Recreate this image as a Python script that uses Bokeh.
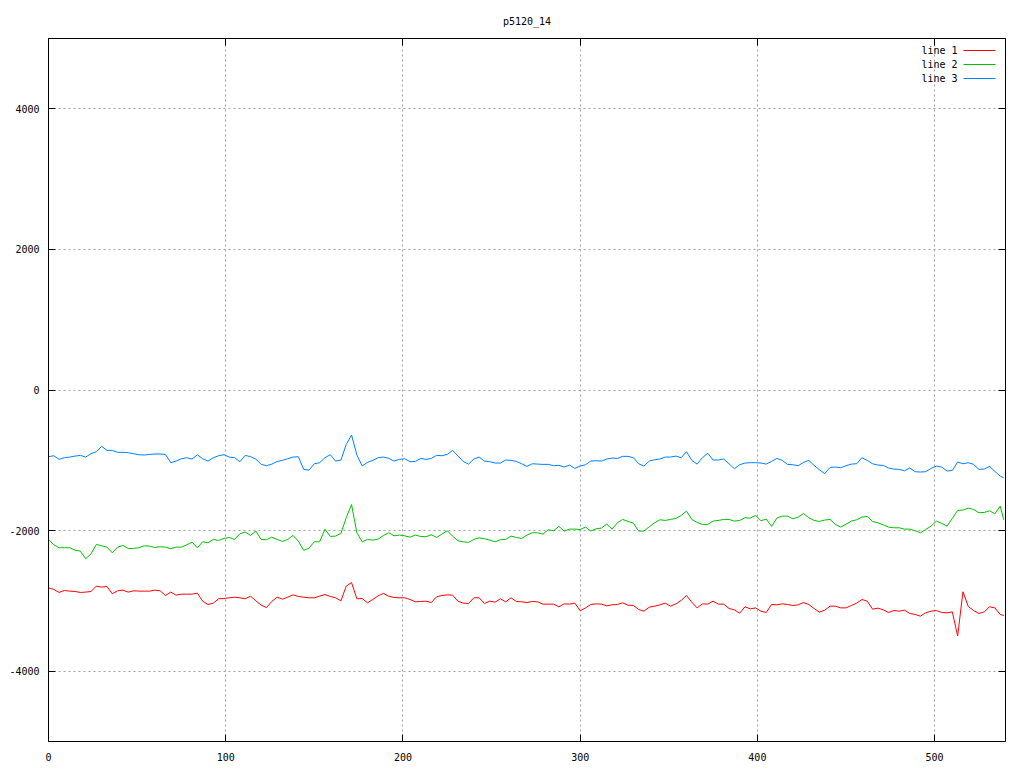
from bokeh.plotting import figure
from bokeh.models import Range1d, LinearAxis, FixedTicker, Label, Arrow, Title
from bokeh.embed import file_html
from bokeh.resources import INLINE

title_text = "p5120_14"
series_names = ["line 1", "line 2", "line 3"]
series_colors = ["#ff0000", "#00c000", "#0080ff"]
x_ticks = [0, 100, 200, 300, 400, 500]
y_ticks = [-4000, -2000, 0, 2000, 4000]

x_vals = list(range(0, 538, 3)) + [539]

line1 = [-2814, -2837, -2880, -2852, -2861, -2866, -2880, -2875, -2866, -2790,
         -2804, -2795, -2899, -2856, -2847, -2875, -2856, -2861, -2861, -2861,
         -2847, -2856, -2923, -2875, -2918, -2904, -2904, -2904, -2890, -3004,
         -3051, -3032, -2970, -2966, -2956, -2947, -2956, -2970, -2933, -2999,
         -3060, -3095, -3008, -2947, -2975, -2947, -2914, -2937, -2947, -2956,
         -2956, -2933, -2909, -2937, -2956, -2999, -2790, -2740, -2970, -2966,
         -3027, -2980, -2928, -2894, -2933, -2951, -2956, -2956, -2980, -3013,
         -3008, -3004, -3023, -2942, -2923, -2914, -2918, -3004, -3032, -3037,
         -2956, -2956, -3037, -3004, -3018, -2970, -3013, -2956, -3008, -3013,
         -3023, -3008, -3013, -3046, -3046, -3046, -3084, -3042, -3046, -3032,
         -3140, -3100, -3051, -3042, -3046, -3070, -3056, -3051, -3027, -3061,
         -3065, -3122, -3146, -3089, -3075, -3056, -3032, -3075, -3042, -2994,
         -2923, -3018, -3100, -3042, -3046, -3004, -3046, -3046, -3108, -3127,
         -3175, -3084, -3113, -3099, -3146, -3165, -3051, -3056, -3042, -3051,
         -3065, -3056, -3023, -3051, -3108, -3160, -3132, -3075, -3075, -3099,
         -3099, -3065, -3032, -2980, -3004, -3118, -3103, -3127, -3165, -3137,
         -3146, -3132, -3179, -3193, -3217, -3170, -3146, -3137, -3165, -3170,
         -3156, -3500, -2870, -3080, -3137, -3179, -3156, -3084, -3099, -3193,
         -3208]

line2 = [-2126, -2202, -2244, -2244, -2244, -2278, -2292, -2400, -2330, -2197,
         -2216, -2235, -2316, -2235, -2211, -2254, -2254, -2244, -2216, -2221,
         -2240, -2230, -2235, -2258, -2235, -2235, -2202, -2164, -2244, -2159,
         -2173, -2126, -2140, -2112, -2097, -2126, -2045, -2021, -2069, -2007,
         -2126, -2130, -2093, -2126, -2154, -2126, -2069, -2149, -2282, -2249,
         -2159, -2159, -1980, -2083, -2078, -2040, -1817, -1630, -2031, -2159,
         -2126, -2135, -2121, -2069, -2031, -2074, -2064, -2074, -2093, -2064,
         -2083, -2088, -2059, -2097, -2050, -2002, -2078, -2145, -2159, -2168,
         -2126, -2102, -2116, -2135, -2159, -2130, -2126, -2078, -2097, -2112,
         -2064, -2031, -2031, -2050, -1988, -2002, -1940, -2007, -1979, -1979,
         -1984, -1950, -2007, -1974, -1964, -1908, -1979, -1889, -1841, -1870,
         -1893, -2007, -2007, -1945, -1889, -1846, -1855, -1841, -1827, -1784,
         -1723, -1841, -1884, -1912, -1912, -1865, -1855, -1841, -1841, -1865,
         -1855, -1817, -1822, -1784, -1860, -1836, -1940, -1822, -1794, -1794,
         -1832, -1808, -1756, -1817, -1855, -1870, -1850, -1841, -1912, -1950,
         -1910, -1865, -1846, -1808, -1798, -1870, -1889, -1917, -1950, -1960,
         -1960, -1979, -1979, -2002, -2031, -1984, -1936, -1865, -1898, -1936,
         -1827, -1713, -1708, -1680, -1699, -1746, -1742, -1718, -1761, -1651,
         -1846]

line3 = [-949, -935, -987, -963, -954, -940, -930, -954, -906, -878,
         -802, -859, -859, -887, -887, -892, -906, -921, -925, -916,
         -911, -911, -916, -1034, -1011, -978, -963, -982, -921, -978,
         -1011, -963, -935, -921, -954, -963, -1020, -930, -949, -982,
         -1058, -1077, -1054, -1016, -1001, -978, -954, -949, -1130, -1140,
         -1049, -1034, -963, -921, -1011, -996, -775, -640, -925, -1080,
         -1030, -1001, -963, -954, -973, -1011, -987, -978, -1020, -1016,
         -973, -987, -973, -930, -935, -916, -860, -935, -1016, -1054,
         -982, -954, -1011, -1020, -1039, -1039, -996, -1001, -1016, -1049,
         -1087, -1049, -1054, -1058, -1058, -1077, -1072, -1096, -1068, -1115,
         -1082, -1063, -1011, -1006, -1011, -982, -968, -973, -944, -944,
         -963, -1049, -1082, -1011, -992, -982, -954, -954, -940, -963,
         -878, -1001, -1054, -963, -901, -996, -996, -982, -1049, -1120,
         -1063, -1039, -1034, -1034, -1039, -1054, -1016, -973, -1001, -1058,
         -1063, -1077, -1030, -1001, -1072, -1134, -1190, -1101, -1096, -1106,
         -1077, -1054, -1049, -963, -1001, -1049, -1068, -1072, -1110, -1125,
         -1129, -1148, -1110, -1162, -1167, -1162, -1115, -1082, -1096, -1153,
         -1144, -1025, -1049, -1034, -1058, -1129, -1125, -1087, -1158, -1224,
         -1248]

FONT = "DejaVu Sans Mono"
FS = "10px"

p = figure(frame_width=957, frame_height=703,
           x_range=Range1d(0, 540), y_range=Range1d(-5000, 5000),
           output_backend="svg", toolbar_location=None, title=None,
           min_border_left=48, min_border_right=10,
           min_border_top=38, min_border_bottom=24,
           x_axis_location=None, y_axis_location=None)
p.background_fill_color = "white"
p.border_fill_color = "white"
p.outline_line_color = "black"
p.outline_line_width = 1


def style_axis(ax, ticks, show_labels, standoff=9):
    ax.ticker = FixedTicker(ticks=ticks, minor_ticks=[])
    ax.major_tick_in = 7
    ax.major_tick_out = 0
    ax.minor_tick_in = 0
    ax.minor_tick_out = 0
    ax.axis_line_color = "black"
    ax.major_tick_line_color = "black"
    ax.major_label_overrides = {t: str(t) for t in ticks}
    ax.major_label_text_font = FONT
    if show_labels:
        ax.major_label_text_font_size = FS
        ax.major_label_text_color = "black"
        ax.major_label_standoff = standoff
    else:
        ax.major_label_text_font_size = "1px"
        ax.major_label_text_color = None
        ax.major_label_standoff = 0


bottom = LinearAxis()
style_axis(bottom, x_ticks, True, standoff=11)
p.add_layout(bottom, "below")
left = LinearAxis()
style_axis(left, y_ticks, True, standoff=9)
p.add_layout(left, "left")
top = LinearAxis()
style_axis(top, x_ticks, False)
p.add_layout(top, "above")
right = LinearAxis()
style_axis(right, y_ticks, False)
p.add_layout(right, "right")

# title (added after the top axis so it sits above it)
p.add_layout(Title(text=title_text, align="center", offset=0, standoff=24,
                   text_font=FONT, text_font_size=FS, text_font_style="normal",
                   text_color="black"), "above")

p.xgrid.ticker = FixedTicker(ticks=x_ticks)
p.ygrid.ticker = FixedTicker(ticks=y_ticks)
for g in (p.xgrid, p.ygrid):
    g.grid_line_color = "#a0a0a0"
    g.grid_line_dash = "2 3"
    g.grid_line_width = 1

for ys, col in zip([line1, line2, line3], series_colors):
    p.line(x_vals, ys, line_color=col, line_width=1)

# gnuplot-style key: label text then sample line
for i, (name, col) in enumerate(zip(series_names, series_colors)):
    sy = 691 - 14 * i
    p.add_layout(Label(x=909, y=sy, x_units="screen", y_units="screen",
                       text=name, text_align="right", text_baseline="middle",
                       text_font=FONT, text_font_size=FS, text_color="black"))
    p.add_layout(Arrow(x_start=915, y_start=sy, x_end=947, y_end=sy,
                       start_units="screen", end_units="screen",
                       start=None, end=None, line_color=col, line_width=1))

open("out.html", "w").write(file_html(p, INLINE))
